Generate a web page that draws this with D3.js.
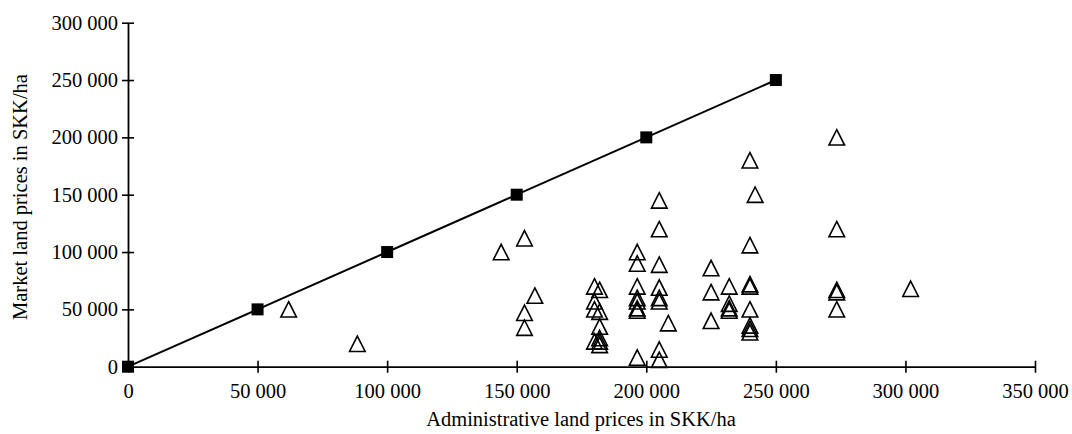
<!DOCTYPE html>
<html>
<head>
<meta charset="utf-8">
<script src="https://cdn.jsdelivr.net/npm/d3@7/dist/d3.min.js"></script>
<style>
  html, body { margin: 0; padding: 0; background: #fff; }
  svg { display: block; }
  text { font-family: "Liberation Serif", "DejaVu Serif", serif; fill: #000; }
</style>
</head>
<body>
<svg id="chart" width="1072" height="434"></svg>
<script>
// Reference line: administrative = market
const lineAdmin  = [0, 50000, 100000, 150000, 200000, 250000];
const lineMarket = [0, 50000, 100000, 150000, 200000, 250000];

// Observed plots
const adminPrices = [
  62000, 88500, 144000, 153000, 157000, 153000, 153000,
  180000, 182000, 180000, 180000, 182000, 182000, 182000, 180000, 182000, 182000,
  196500, 196500, 196500, 196500, 196500, 196500, 196500, 196500,
  205000, 205000, 205000, 205000, 205000, 205000, 205000, 205000, 208500,
  225000, 225000, 225000,
  232000, 232000, 232000, 232000,
  240000, 240000, 240000, 240000, 240000, 240000, 240000, 240000, 242000,
  273500, 273500, 273500, 273500, 273500,
  302000
];
const marketPrices = [
  50000, 20000, 100000, 112000, 62000, 47000, 34000,
  70000, 67000, 57000, 50000, 48000, 35000, 25000, 22000, 22000, 19000,
  100000, 90000, 70000, 60000, 57000, 51000, 49000, 8000,
  145000, 120000, 89000, 69000, 60000, 57000, 15000, 6000, 38000,
  86000, 65000, 40000,
  70000, 55000, 51000, 49000,
  180000, 106000, 72000, 70000, 50000, 36000, 33000, 30000, 150000,
  200000, 120000, 67000, 65000, 50000,
  68000
];

const xTicks = [0, 50000, 100000, 150000, 200000, 250000, 300000, 350000];
const yTicks = [0, 50000, 100000, 150000, 200000, 250000, 300000];
const xTitle = "Administrative land prices in SKK/ha";
const yTitle = "Market land prices in SKK/ha";

const FS = 20.5;
const svg = d3.select("#chart");
const x = d3.scaleLinear().domain([0, 350000]).range([128, 1035]);
const y = d3.scaleLinear().domain([0, 300000]).range([366.7, 22.7]);

const loc = d3.formatLocale({decimal: ".", thousands: " ", grouping: [3], currency: ["", ""]});
const fmt = loc.format(",");

// Y axis
const gy = svg.append("g").attr("transform", `translate(${x(0)},0)`)
  .call(d3.axisLeft(y).tickValues(yTicks).tickFormat(fmt).tickSize(6).tickSizeOuter(0).tickPadding(4));
gy.select(".domain").attr("stroke", "#000").attr("stroke-width", 1.8);
gy.selectAll(".tick line").attr("x1", 6).attr("stroke", "#000").attr("stroke-width", 1.6);
gy.selectAll(".tick text").attr("font-size", FS).attr("font-family", "Liberation Serif");

// X axis
const gx = svg.append("g").attr("transform", `translate(0,${y(0)})`)
  .call(d3.axisBottom(x).tickValues(xTicks).tickFormat(fmt).tickSize(6).tickSizeOuter(0).tickPadding(11));
gx.select(".domain").attr("stroke", "#000").attr("stroke-width", 1.8);
gx.selectAll(".tick line").attr("y1", -6).attr("stroke", "#000").attr("stroke-width", 1.6);
gx.selectAll(".tick text").attr("font-size", FS).attr("font-family", "Liberation Serif");

// Titles
svg.append("text").attr("x", 581).attr("y", 426).attr("text-anchor", "middle")
  .attr("font-size", FS).text(xTitle);
svg.append("text").attr("transform", `translate(27,197) rotate(-90)`).attr("text-anchor", "middle")
  .attr("font-size", FS).text(yTitle);

// Reference line
const linePts = lineAdmin.map((d, i) => [d, lineMarket[i]]);
svg.append("path")
  .attr("d", d3.line().x(d => x(d[0])).y(d => y(d[1]))(linePts))
  .attr("fill", "none").attr("stroke", "#000").attr("stroke-width", 2);
svg.selectAll("rect.sq").data(linePts).join("rect").attr("class", "sq")
  .attr("x", d => x(d[0]) - 6).attr("y", d => y(d[1]) - 6)
  .attr("width", 12).attr("height", 12).attr("fill", "#000");

// Triangles
const pts = adminPrices.map((d, i) => [d, marketPrices[i]]);
const tri = "M0,-7.7L7.8,7.7L-7.8,7.7Z";
svg.selectAll("path.tri").data(pts).join("path").attr("class", "tri")
  .attr("transform", d => `translate(${x(d[0])},${y(d[1])})`)
  .attr("d", tri).attr("fill", "none").attr("stroke", "#000").attr("stroke-width", 1.6);
</script>
</body>
</html>
